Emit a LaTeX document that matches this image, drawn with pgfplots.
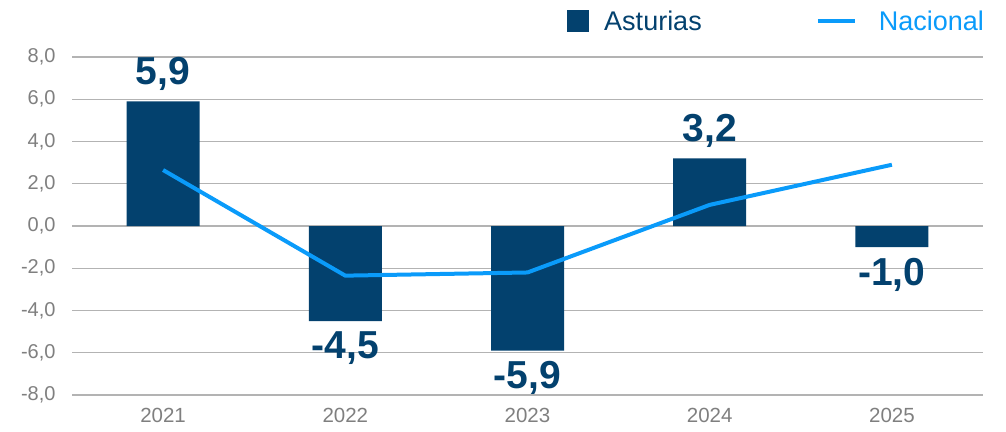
\documentclass[border=0pt]{standalone}
\usepackage{pgfplots}
\pgfplotsset{compat=1.18}
\usepackage{fontspec}
\setmainfont{Liberation Sans}
\definecolor{astur}{HTML}{03416E}
\definecolor{nac}{HTML}{0A9BFA}
\definecolor{tickgray}{HTML}{7F7F7F}
\definecolor{gridgray}{HTML}{B3B3B3}
\begin{document}
\begin{tikzpicture}[x=1pt,y=1pt]
\path[use as bounding box] (0,0) rectangle (1006,431);
\begin{axis}[
  at={(72pt,36pt)}, anchor=south west,
  scale only axis, width=911pt, height=338pt,
  xmin=-0.5, xmax=4.5, ymin=-8, ymax=8,
  xtick={0,1,2,3,4}, xticklabels={2021,2022,2023,2024,2025},
  ytick={-8,-6,-4,-2,0,2,4,6,8},
  axis line style={draw=none},
  major tick length=0pt,
  ymajorgrids, grid style={gridgray, line width=1.2pt},
  yticklabel style={/pgf/number format/.cd, fixed, fixed zerofill, precision=1, use comma, assume math mode=true, /tikz/.cd,
    font=\fontsize{20}{24}\selectfont, text=tickgray, anchor=east, xshift=-13pt},
  xticklabel style={font=\fontsize{20.5}{24}\selectfont, text=tickgray, anchor=north, yshift=-10pt},
  legend columns=2,
  legend style={draw=none, fill=none, at={(0.5401,1)}, anchor=west, yshift=36pt,
    nodes={inner sep=0pt}, font=\fontsize{27}{32}\selectfont,
    /tikz/every odd column/.append style={column sep=15pt},
    /tikz/every even column/.append style={column sep=114pt}},
]
\addplot[ybar, bar width=73pt, fill=astur, draw=none,
  nodes near coords={\pgfmathprintnumber[fixed,fixed zerofill,precision=1,use comma,assume math mode=true]{\pgfplotspointmeta}},
  nodes near coords style={font=\fontsize{39}{44}\selectfont\bfseries, text=astur, inner sep=10.5pt},
  legend image code/.code={\fill[astur] (0pt,-11pt) rectangle (22pt,11pt);}]
  coordinates {(0,5.9) (1,-4.5) (2,-5.9) (3,3.2) (4,-1.0)};
\addlegendentry{\textcolor{astur}{Asturias}}
\addplot[nac, line width=4pt, sharp plot, mark=none,
  legend image code/.code={\draw[nac, line width=4pt] (0pt,0pt) -- (37pt,0pt); \path (44pt,0pt);}]
  coordinates {(0,2.65) (1,-2.35) (2,-2.2) (3,1.0) (4,2.9)};
\addlegendentry{\textcolor{nac}{Nacional}}
\end{axis}
\end{tikzpicture}
\end{document}
